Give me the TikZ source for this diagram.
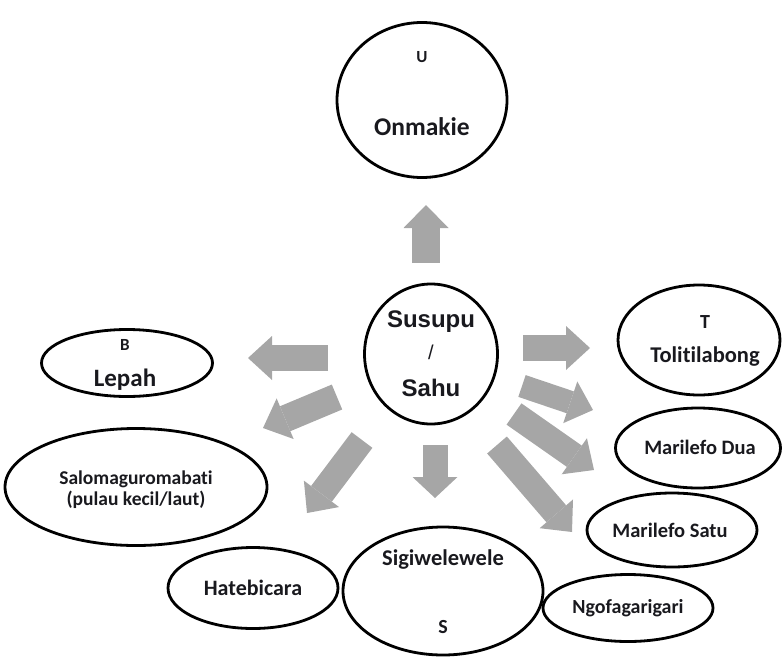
\documentclass[tikz,border=0pt]{standalone}
\usepackage{fontspec}
\setmainfont{Carlito}[Ligatures=NoCommon]
\newfontfamily\arialfont{Liberation Sans}
\usetikzlibrary{shapes.geometric,arrows.meta}
\definecolor{arrowgray}{RGB}{166,166,166}
\definecolor{txt}{RGB}{25,25,30}
\begin{document}
\begin{tikzpicture}[x=1pt,y=-1pt,
  bubble/.style={draw=black, line width=2.8pt, ellipse, inner sep=0pt},
  lbl/.style={text=txt, inner sep=0pt, align=center},
  fs/.style={font=\bfseries\fontsize{#1}{#1}\selectfont},
  fat/.style={draw=arrowgray, line width=26pt, -{Triangle[width=44pt,length=24pt,line width=0pt]}}]
\useasboundingbox (0,0) rectangle (783,661);
% bubbles
\node[bubble, minimum width=170pt, minimum height=155pt] (U) at (422,100) {};
\node[bubble, minimum width=133pt, minimum height=140pt] (C) at (431,354) {};
\node[bubble, minimum width=162pt, minimum height=110pt] (T) at (699,340) {};
\node[bubble, minimum width=165pt, minimum height=80pt] (MD) at (698,448) {};
\node[bubble, minimum width=170pt, minimum height=74pt] (MS) at (672,530) {};
\node[bubble, minimum width=170pt, minimum height=67pt] (NG) at (628,608) {};
\node[bubble, minimum width=200pt, minimum height=128pt] (SG) at (443,591) {};
\node[bubble, minimum width=170pt, minimum height=81pt] (HB) at (253,588) {};
\node[bubble, minimum width=262pt, minimum height=117pt] (SL) at (136,487) {};
\node[bubble, minimum width=171pt, minimum height=67pt] (LP) at (127,363) {};
% texts
\node[lbl, fs=17] (tU) at (422,57) {U};
\node[lbl, fs=25.5] (tOn) at (422,127) {Onmakie};
\node[lbl, font=\arialfont\bfseries\fontsize{24}{24}\selectfont] (tSus) at (431,322) {Susupu};
\node[lbl, font=\arialfont\fontsize{20}{20}\selectfont] (tSl) at (431,352) {/};
\node[lbl, font=\arialfont\bfseries\fontsize{24}{24}\selectfont] (tSah) at (431,388) {Sahu};
\node[lbl, fs=20] (tT) at (705,322) {T};
\node[lbl, fs=22.5] (tTol) at (705,357) {Tolitilabong};
\node[lbl, fs=20.5] (tMD) at (700,447) {Marilefo Dua};
\node[lbl, fs=20.5] (tMS) at (670,530) {Marilefo Satu};
\node[lbl, fs=20] (tNG) at (628,608) {Ngofagarigari};
\node[lbl, fs=22.5] (tSG) at (443,560) {Sigiwelewele};
\node[lbl, fs=20] (tS) at (443,627) {S};
\node[lbl, fs=22] (tHB) at (253,588) {Hatebicara};
\node[lbl, font=\bfseries\fontsize{19.5}{21}\selectfont] (tSL) at (136,490) {Salomaguromabati\\(pulau kecil/laut)};
\node[lbl, fs=17] (tB) at (125,345) {B};
\node[lbl, fs=25] (tLP) at (125,380) {Lepah};
% arrows
\coordinate (a0s) at (426,263); \coordinate (a0e) at (426,205);
\coordinate (a1s) at (328,358); \coordinate (a1e) at (248,358);
\coordinate (a2s) at (337,397); \coordinate (a2e) at (263,428);
\coordinate (a3s) at (362,440); \coordinate (a3e) at (307,513);
\coordinate (a4s) at (435,445); \coordinate (a4e) at (435,498);
\coordinate (a5s) at (523,348); \coordinate (a5e) at (590,348);
\coordinate (a6s) at (522,386); \coordinate (a6e) at (593,410);
\coordinate (a7s) at (514,414); \coordinate (a7e) at (594,470);
\coordinate (a8s) at (497,445); \coordinate (a8e) at (572,532);
\draw[fat, line width=28pt, -{Triangle[width=45pt,length=23pt,line width=0pt]}] (a0s) -- (a0e);
\draw[fat] (a1s) -- (a1e);
\draw[fat, line width=27pt] (a2s) -- (a2e);
\draw[fat] (a3s) -- (a3e);
\draw[fat, line width=25pt, -{Triangle[width=45pt,length=21pt,line width=0pt]}] (a4s) -- (a4e);
\draw[fat] (a5s) -- (a5e);
\draw[fat, line width=23pt] (a6s) -- (a6e);
\draw[fat] (a7s) -- (a7e);
\draw[fat] (a8s) -- (a8e);
\end{tikzpicture}
\end{document}
